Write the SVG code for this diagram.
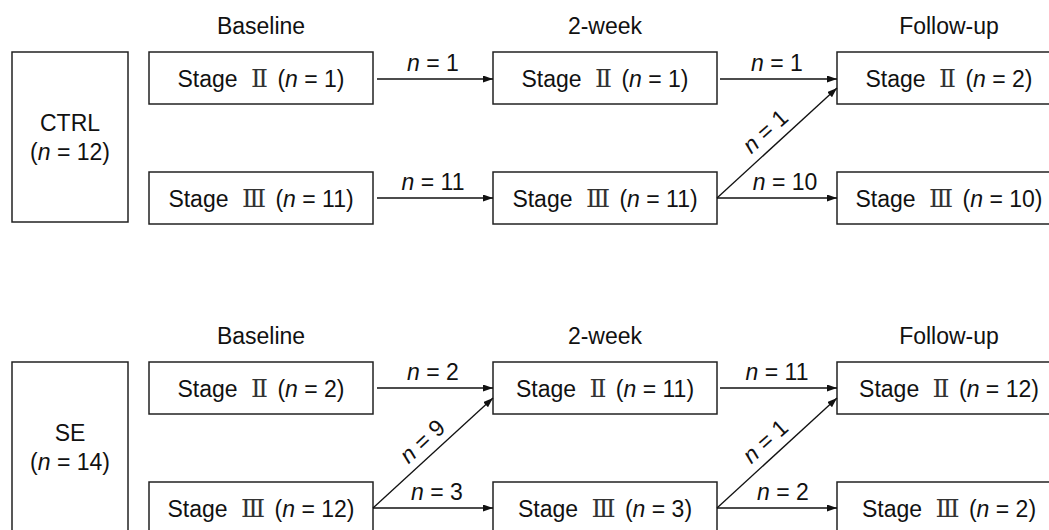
<svg xmlns="http://www.w3.org/2000/svg" width="1049" height="530" viewBox="0 0 1049 530">
<defs>
<style>
text{font-family:"Liberation Sans",Arial,sans-serif;font-size:23px;fill:#111;}
.m{text-anchor:middle;}
.box{fill:#fff;stroke:#222;stroke-width:1.5;}
.ln{stroke:#111;stroke-width:1.3;fill:none;marker-end:url(#ah);}
.r{font-family:"DejaVu Serif","Liberation Serif",serif;font-size:25px;fill:#333;}
.i{font-style:italic;}
</style>
<marker id="ah" markerUnits="userSpaceOnUse" markerWidth="11" markerHeight="8" refX="10" refY="3.5" orient="auto">
<path d="M0,0 L10,3.5 L0,7 z" fill="#111"/>
</marker>
</defs>
<rect width="1049" height="530" fill="#fff"/>

<g id="headers">
<text class="m" x="261" y="34">Baseline</text>
<text class="m" x="605" y="34">2-week</text>
<text class="m" x="949" y="34">Follow-up</text>
<text class="m" x="261" y="344">Baseline</text>
<text class="m" x="605" y="344">2-week</text>
<text class="m" x="949" y="344">Follow-up</text>
</g>

<g id="ctrl">
<rect class="box" x="12" y="52" width="116" height="170"/>
<text class="m" x="70" y="131">CTRL</text>
<text class="m" x="70" y="160">(<tspan class="i">n</tspan> = 12)</text>
</g>
<g id="ctrl-base-ii">
<rect class="box" x="149" y="52" width="224" height="52"/>
<text class="m" x="261" y="87">Stage <tspan class="r" dx="7">Ⅱ</tspan> <tspan dx="3">(</tspan><tspan class="i">n</tspan> = 1)</text>
</g>
<g id="ctrl-base-iii">
<rect class="box" x="149" y="172" width="224" height="52"/>
<text class="m" x="261" y="207">Stage <tspan class="r" dx="7">Ⅲ</tspan> <tspan dx="3">(</tspan><tspan class="i">n</tspan> = 11)</text>
</g>
<g id="ctrl-2w-ii">
<rect class="box" x="493" y="52" width="224" height="52"/>
<text class="m" x="605" y="87">Stage <tspan class="r" dx="7">Ⅱ</tspan> <tspan dx="3">(</tspan><tspan class="i">n</tspan> = 1)</text>
</g>
<g id="ctrl-2w-iii">
<rect class="box" x="493" y="172" width="224" height="52"/>
<text class="m" x="605" y="207">Stage <tspan class="r" dx="7">Ⅲ</tspan> <tspan dx="3">(</tspan><tspan class="i">n</tspan> = 11)</text>
</g>
<g id="ctrl-fu-ii">
<rect class="box" x="837" y="52" width="224" height="52"/>
<text class="m" x="949" y="87">Stage <tspan class="r" dx="7">Ⅱ</tspan> <tspan dx="3">(</tspan><tspan class="i">n</tspan> = 2)</text>
</g>
<g id="ctrl-fu-iii">
<rect class="box" x="837" y="172" width="224" height="52"/>
<text class="m" x="949" y="207">Stage <tspan class="r" dx="7">Ⅲ</tspan> <tspan dx="3">(</tspan><tspan class="i">n</tspan> = 10)</text>
</g>

<g id="se">
<rect class="box" x="12" y="362" width="116" height="170"/>
<text class="m" x="70" y="441">SE</text>
<text class="m" x="70" y="470">(<tspan class="i">n</tspan> = 14)</text>
</g>
<g id="se-base-ii">
<rect class="box" x="149" y="362" width="224" height="52"/>
<text class="m" x="261" y="397">Stage <tspan class="r" dx="7">Ⅱ</tspan> <tspan dx="3">(</tspan><tspan class="i">n</tspan> = 2)</text>
</g>
<g id="se-base-iii">
<rect class="box" x="149" y="482" width="224" height="52"/>
<text class="m" x="261" y="517">Stage <tspan class="r" dx="7">Ⅲ</tspan> <tspan dx="3">(</tspan><tspan class="i">n</tspan> = 12)</text>
</g>
<g id="se-2w-ii">
<rect class="box" x="493" y="362" width="224" height="52"/>
<text class="m" x="605" y="397">Stage <tspan class="r" dx="7">Ⅱ</tspan> <tspan dx="3">(</tspan><tspan class="i">n</tspan> = 11)</text>
</g>
<g id="se-2w-iii">
<rect class="box" x="493" y="482" width="224" height="52"/>
<text class="m" x="605" y="517">Stage <tspan class="r" dx="7">Ⅲ</tspan> <tspan dx="3">(</tspan><tspan class="i">n</tspan> = 3)</text>
</g>
<g id="se-fu-ii">
<rect class="box" x="837" y="362" width="224" height="52"/>
<text class="m" x="949" y="397">Stage <tspan class="r" dx="7">Ⅱ</tspan> <tspan dx="3">(</tspan><tspan class="i">n</tspan> = 12)</text>
</g>
<g id="se-fu-iii">
<rect class="box" x="837" y="482" width="224" height="52"/>
<text class="m" x="949" y="517">Stage <tspan class="r" dx="7">Ⅲ</tspan> <tspan dx="3">(</tspan><tspan class="i">n</tspan> = 2)</text>
</g>

<g id="connectors">
<line class="ln" x1="377" y1="79" x2="493" y2="79"/>
<line class="ln" x1="377" y1="198" x2="493" y2="198"/>
<line class="ln" x1="720" y1="79" x2="837" y2="79"/>
<line class="ln" x1="717" y1="198" x2="837" y2="198"/>
<line class="ln" x1="717" y1="198" x2="837" y2="88"/>
<line class="ln" x1="377" y1="388" x2="493" y2="388"/>
<line class="ln" x1="373" y1="508" x2="493" y2="508"/>
<line class="ln" x1="373" y1="508" x2="493" y2="398"/>
<line class="ln" x1="720" y1="388" x2="837" y2="388"/>
<line class="ln" x1="717" y1="508" x2="837" y2="508"/>
<line class="ln" x1="717" y1="508" x2="837" y2="398"/>
</g>

<g id="connector-labels">
<text class="m" x="433" y="71"><tspan class="i">n</tspan> = 1</text>
<text class="m" x="433" y="190"><tspan class="i">n</tspan> = 11</text>
<text class="m" x="777" y="71"><tspan class="i">n</tspan> = 1</text>
<text class="m" x="785" y="190"><tspan class="i">n</tspan> = 10</text>
<text class="m" transform="translate(770.6,137.1) rotate(-42)"><tspan class="i">n</tspan> = 1</text>
<text class="m" x="433" y="380"><tspan class="i">n</tspan> = 2</text>
<text class="m" x="437" y="500"><tspan class="i">n</tspan> = 3</text>
<text class="m" transform="translate(427.6,447.1) rotate(-42.5)"><tspan class="i">n</tspan> = 9</text>
<text class="m" x="777" y="380"><tspan class="i">n</tspan> = 11</text>
<text class="m" x="783" y="500"><tspan class="i">n</tspan> = 2</text>
<text class="m" transform="translate(770.6,447.1) rotate(-42)"><tspan class="i">n</tspan> = 1</text>
</g>
</svg>
